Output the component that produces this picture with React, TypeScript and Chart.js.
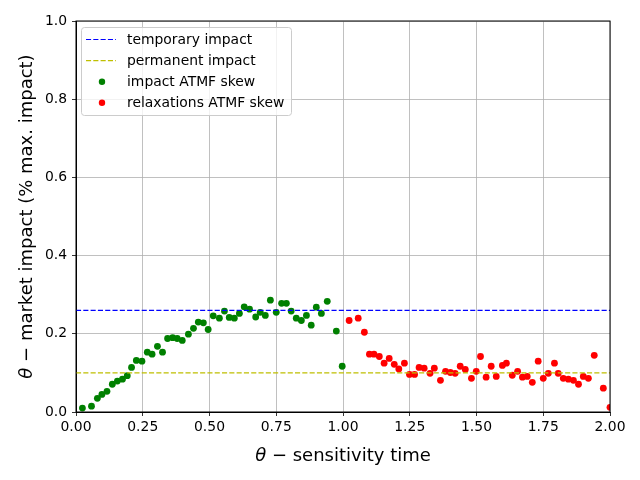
import { useEffect, useRef } from "react";
import Chart from "chart.js/auto";

// valeurs
const impactTimes = [
  0.024, 0.058, 0.08, 0.097, 0.116, 0.136, 0.155, 0.174, 0.192, 0.208,
  0.226, 0.247, 0.267, 0.285, 0.305, 0.324, 0.343, 0.362, 0.379, 0.398,
  0.421, 0.44, 0.458, 0.477, 0.495, 0.514, 0.537, 0.556, 0.574, 0.593,
  0.612, 0.63, 0.65, 0.673, 0.69, 0.709, 0.728, 0.75, 0.77, 0.788,
  0.806, 0.825, 0.844, 0.863, 0.881, 0.9, 0.919, 0.941, 0.975, 0.997,
];
const impactSkew = [
  0.01, 0.015, 0.035, 0.045, 0.053, 0.071, 0.079, 0.084, 0.093, 0.114,
  0.132, 0.13, 0.153, 0.148, 0.168, 0.153, 0.188, 0.19, 0.188, 0.183,
  0.199, 0.214, 0.23, 0.228, 0.211, 0.246, 0.24, 0.258, 0.242, 0.24,
  0.252, 0.269, 0.263, 0.243, 0.255, 0.247, 0.286, 0.255, 0.278, 0.278,
  0.258, 0.24, 0.234, 0.247, 0.222, 0.268, 0.252, 0.283, 0.207, 0.117,
];
const relaxTimes = [
  1.023, 1.057, 1.08, 1.099, 1.116, 1.136, 1.154, 1.173, 1.192, 1.209,
  1.23, 1.249, 1.268, 1.285, 1.304, 1.326, 1.342, 1.365, 1.384, 1.402,
  1.42, 1.439, 1.458, 1.481, 1.499, 1.515, 1.536, 1.555, 1.574, 1.597,
  1.612, 1.634, 1.654, 1.672, 1.69, 1.709, 1.731, 1.75, 1.769, 1.792,
  1.806, 1.825, 1.844, 1.863, 1.882, 1.9, 1.919, 1.941, 1.975, 2.0,
];
const relaxSkew = [
  0.234, 0.24, 0.204, 0.148, 0.148, 0.142, 0.125, 0.137, 0.122, 0.11,
  0.125, 0.096, 0.096, 0.114, 0.112, 0.099, 0.112, 0.081, 0.104, 0.101,
  0.099, 0.117, 0.109, 0.086, 0.104, 0.142, 0.089, 0.117, 0.091, 0.119,
  0.125, 0.094, 0.104, 0.089, 0.091, 0.076, 0.13, 0.086, 0.099, 0.125,
  0.099, 0.086, 0.084, 0.081, 0.071, 0.091, 0.086, 0.145, 0.061, 0.012,
];
const temporaryImpact = 0.26;
const permanentImpact = 0.1;
const xRange = [0, 2];
const yRange = [0, 1];

const legendItems = [
  { label: "temporary impact", color: "#0000ff", kind: "line" },
  { label: "permanent impact", color: "#bfbf00", kind: "line" },
  { label: "impact ATMF skew", color: "#008000", kind: "dot" },
  { label: "relaxations ATMF skew", color: "#ff0000", kind: "dot" },
];

const FONT = "DejaVu Sans";
const DASH = [5.1, 2.2];

// θ en italique puis le reste du texte
const drawMathLabel = (ctx: CanvasRenderingContext2D, rest: string, size: number) => {
  ctx.font = `italic ${size}px "${FONT}"`;
  const wTheta = ctx.measureText("θ").width;
  ctx.font = `${size}px "${FONT}"`;
  const wRest = ctx.measureText(rest).width;
  const start = -(wTheta + wRest) / 2;
  ctx.textAlign = "left";
  ctx.textBaseline = "alphabetic";
  ctx.font = `italic ${size}px "${FONT}"`;
  ctx.fillText("θ", start, 0);
  ctx.font = `${size}px "${FONT}"`;
  ctx.fillText(rest, start + wTheta, 0);
};

const decorations = {
  id: "decorations",
  afterDraw(chart: Chart) {
    const { ctx, chartArea: a } = chart;
    ctx.save();
    // cadre
    ctx.strokeStyle = "#000";
    ctx.lineWidth = 1;
    ctx.strokeRect(a.left, a.top, a.right - a.left, a.bottom - a.top);

    // titres des axes
    ctx.fillStyle = "#000";
    ctx.save();
    ctx.translate((a.left + a.right) / 2, 461);
    drawMathLabel(ctx, " − sensitivity time", 18);
    ctx.restore();
    ctx.save();
    ctx.translate(32, (a.top + a.bottom) / 2);
    ctx.rotate(-Math.PI / 2);
    drawMathLabel(ctx, " − market impact (% max. impact)", 18);
    ctx.restore();

    // légende
    const bx = a.left + 5.5;
    const by = a.top + 6.5;
    const bw = 210;
    const bh = 88;
    ctx.beginPath();
    ctx.roundRect(bx, by, bw, bh, 3);
    ctx.fillStyle = "rgba(255,255,255,0.8)";
    ctx.fill();
    ctx.strokeStyle = "#cccccc";
    ctx.lineWidth = 1;
    ctx.stroke();
    ctx.font = `13.9px "${FONT}"`;
    ctx.textAlign = "left";
    ctx.textBaseline = "middle";
    legendItems.forEach((item, i) => {
      const y = by + 12 + i * 21.1;
      if (item.kind === "line") {
        ctx.beginPath();
        ctx.setLineDash(DASH);
        ctx.strokeStyle = item.color;
        ctx.lineWidth = 1.2;
        ctx.moveTo(bx + 4.5, y);
        ctx.lineTo(bx + 34.5, y);
        ctx.stroke();
        ctx.setLineDash([]);
      } else {
        ctx.beginPath();
        ctx.fillStyle = item.color;
        ctx.arc(bx + 20.5, y, 3.2, 0, Math.PI * 2);
        ctx.fill();
      }
      ctx.fillStyle = "#000";
      ctx.fillText(item.label, bx + 45.5, y + 1);
    });
    ctx.restore();
  },
};

const App = () => {
  const canvasRef = useRef<HTMLCanvasElement | null>(null);
  const chartRef = useRef<Chart | null>(null);

  useEffect(() => {
    document.body.style.margin = "0";
    if (!canvasRef.current) return;
    if (chartRef.current) chartRef.current.destroy();

    const tickFont = { family: FONT, size: 13.9 };
    const gridStyle = {
      color: "#b0b0b0",
      lineWidth: 0.8,
      tickColor: "#000",
      tickLength: 4,
      tickWidth: 0.8,
    };

    chartRef.current = new Chart(canvasRef.current, {
      type: "scatter",
      data: {
        datasets: [
          {
            label: "temporary impact",
            data: [
              { x: xRange[0], y: temporaryImpact },
              { x: xRange[1], y: temporaryImpact },
            ],
            showLine: true,
            borderColor: "#0000ff",
            borderWidth: 1.3,
            borderDash: DASH,
            pointRadius: 0,
          },
          {
            label: "permanent impact",
            data: [
              { x: xRange[0], y: permanentImpact },
              { x: xRange[1], y: permanentImpact },
            ],
            showLine: true,
            borderColor: "#bfbf00",
            borderWidth: 1.3,
            borderDash: DASH,
            pointRadius: 0,
          },
          {
            label: "impact ATMF skew",
            data: impactTimes.map((x, i) => ({ x, y: impactSkew[i] })),
            backgroundColor: "#008000",
            borderColor: "#008000",
            borderWidth: 0,
            pointRadius: 3.4,
            clip: 0,
          },
          {
            label: "relaxations ATMF skew",
            data: relaxTimes.map((x, i) => ({ x, y: relaxSkew[i] })),
            backgroundColor: "#ff0000",
            borderColor: "#ff0000",
            borderWidth: 0,
            pointRadius: 3.4,
            clip: 0,
          },
        ],
      },
      options: {
        animation: false,
        responsive: false,
        devicePixelRatio: 1,
        layout: { padding: { top: 21, right: 30, left: 0, bottom: 0 } },
        plugins: {
          legend: { display: false },
          tooltip: { enabled: false },
        },
        scales: {
          x: {
            type: "linear",
            min: xRange[0],
            max: xRange[1],
            ticks: {
              stepSize: 0.25,
              autoSkip: false,
              maxRotation: 0,
              color: "#000",
              font: tickFont,
              padding: 3,
              callback: (v) => Number(v).toFixed(2),
            },
            grid: gridStyle,
            border: { color: "#000", width: 1 },
            afterFit: (s) => {
              s.height = 68;
            },
          },
          y: {
            type: "linear",
            min: yRange[0],
            max: yRange[1],
            ticks: {
              stepSize: 0.2,
              color: "#000",
              font: tickFont,
              padding: 5,
              callback: (v) => Number(v).toFixed(1),
            },
            grid: gridStyle,
            border: { color: "#000", width: 1 },
            afterFit: (s) => {
              s.width = 76;
            },
          },
        },
      },
      plugins: [decorations],
    });

    return () => {
      chartRef.current?.destroy();
      chartRef.current = null;
    };
  }, []);

  return <canvas ref={canvasRef} width={640} height={480} style={{ display: "block" }} />;
};

export default App;
